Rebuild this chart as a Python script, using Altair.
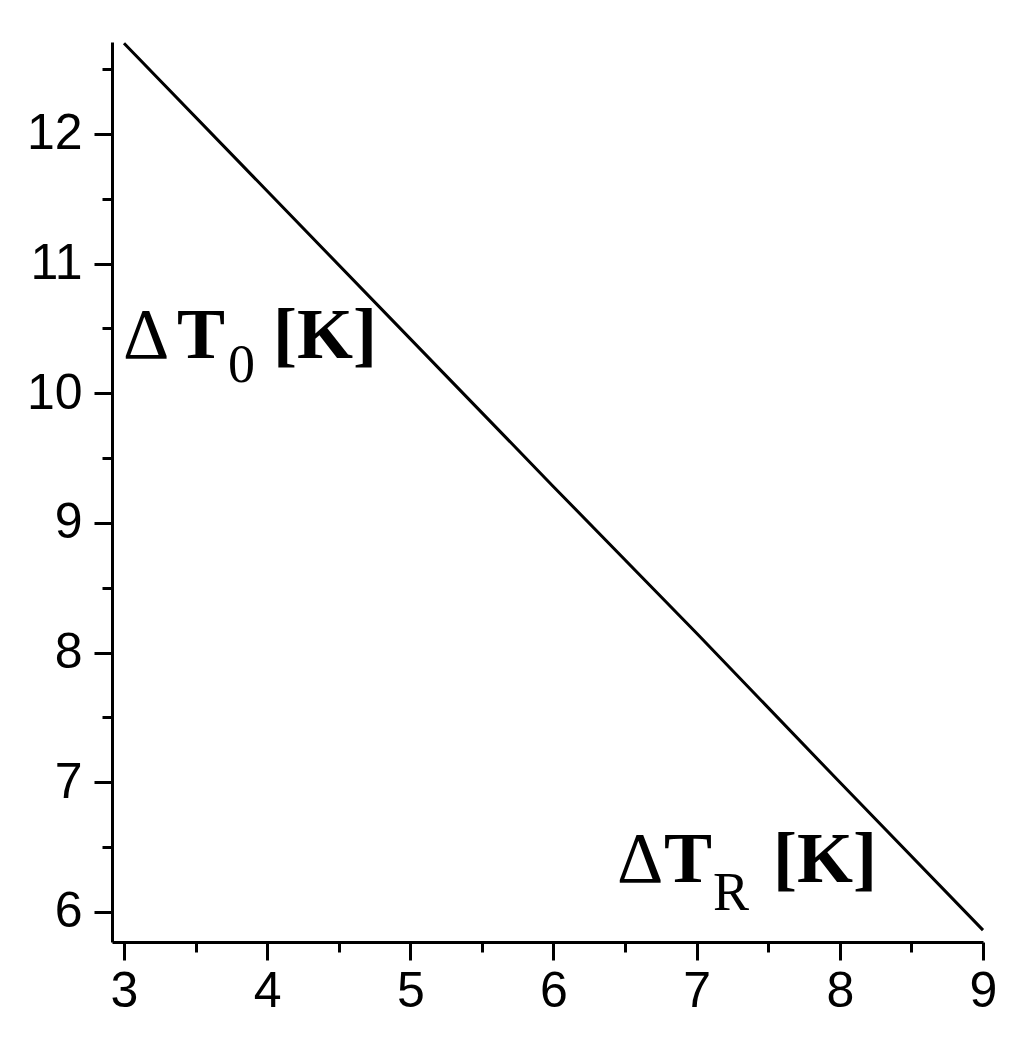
import altair as alt
import pandas as pd

# line data
dT_R = [3, 4, 5, 6, 7, 8, 9]
dT_0 = [12.70, 11.56, 10.42, 9.28, 8.15, 7.00, 5.86]

# tick values
x_ticks = [3, 3.5, 4, 4.5, 5, 5.5, 6, 6.5, 7, 7.5, 8, 8.5, 9]
y_ticks = [6, 6.5, 7, 7.5, 8, 8.5, 9, 9.5, 10, 10.5, 11, 11.5, 12, 12.5]

# annotation pieces (data coordinates)
delta_text = ["Δ", "Δ"]
delta_x = [2.993, 6.443]
delta_y = [10.2725, 6.2315]
main_text = ["T", "[K]", "T", "[K]"]
main_x = [3.370, 4.041, 6.772, 7.533]
main_y = [10.2725, 10.2725, 6.2315, 6.2315]
sub_text = ["0", "R"]
sub_x = [3.7264, 7.114]
sub_y = [10.0875, 6.0156]

X_DOMAIN = [2.9162, 9.0]
Y_DOMAIN = [5.7686, 12.7095]

TICK_FONT = "'Liberation Sans Narrow', 'Liberation Sans', sans-serif"
SERIF = "'Liberation Serif', serif"

line_df = pd.DataFrame({"x": dT_R, "y": dT_0})
delta_df = pd.DataFrame({"t": delta_text, "x": delta_x, "y": delta_y})
main_df = pd.DataFrame({"t": main_text, "x": main_x, "y": main_y})
sub_df = pd.DataFrame({"t": sub_text, "x": sub_x, "y": sub_y})

minor_test = "datum.value % 1 != 0"


def make_axis(pad):
    return alt.Axis(
        labelExpr="datum.value % 1 ? '' : format(datum.value, 'd')",
        tickSize={"condition": {"test": minor_test, "value": 10}, "value": 18},
        tickWidth=3,
        tickColor="black",
        domainWidth=3,
        domainColor="black",
        labelFont=TICK_FONT,
        labelFontSize=50,
        labelColor="black",
        labelPadding=pad,
        labelOverlap=False,
        labelFlush=False,
        grid=False,
        title=None,
    )


x_axis = make_axis(6)
x_axis["values"] = x_ticks
y_axis = make_axis(12)
y_axis["values"] = y_ticks

xs = alt.Scale(domain=X_DOMAIN, nice=False, zero=False)
ys = alt.Scale(domain=Y_DOMAIN, nice=False, zero=False)

line = alt.Chart(line_df).mark_line(color="black", strokeWidth=3).encode(
    x=alt.X("x:Q", scale=xs, axis=x_axis),
    y=alt.Y("y:Q", scale=ys, axis=y_axis),
)

delta_lbl = alt.Chart(delta_df).mark_text(
    font=SERIF, fontSize=72, color="black",
    align="left", baseline="alphabetic",
).encode(x=alt.X("x:Q", scale=xs), y=alt.Y("y:Q", scale=ys), text="t:N")

main_lbl = alt.Chart(main_df).mark_text(
    font=SERIF, fontSize=72, fontWeight="bold", color="black",
    align="left", baseline="alphabetic",
).encode(x=alt.X("x:Q", scale=xs), y=alt.Y("y:Q", scale=ys), text="t:N")

sub_lbl = alt.Chart(sub_df).mark_text(
    font=SERIF, fontSize=54, color="black",
    align="left", baseline="alphabetic",
).encode(x=alt.X("x:Q", scale=xs), y=alt.Y("y:Q", scale=ys), text="t:N")

chart = alt.layer(line, delta_lbl, main_lbl, sub_lbl).properties(
    width=871,
    height=900,
    autosize=alt.AutoSizeParams(type="none"),
    padding={"left": 104, "top": 34, "right": 26, "bottom": 100},
    background="white",
).configure_view(stroke=None)

chart.save("out.html", embed_options={"renderer": "svg", "actions": False})
